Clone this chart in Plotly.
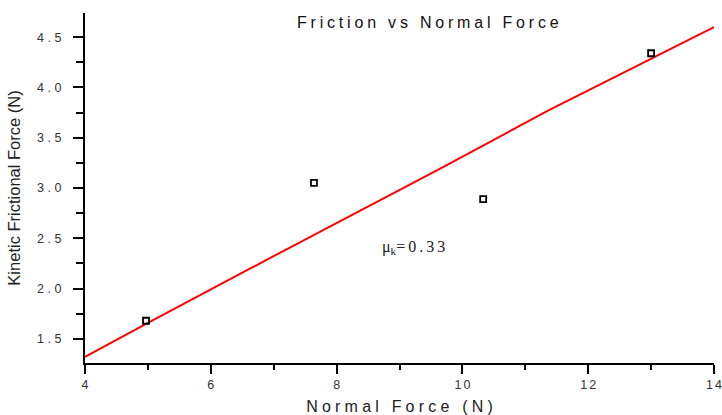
import plotly.graph_objects as go

# Data
normal_force = [4.97, 7.64, 10.33, 13.0]
friction = [1.68, 3.05, 2.89, 4.34]

fit_x = [4.0, 5.0, 6.9, 9.64, 11.36, 14.0]
fit_y = [1.32, 1.66, 2.29, 3.19, 3.77, 4.60]

x_ticks = [4, 6, 8, 10, 12, 14]
x_tick_labels = ["4", "6", "8", "10", "12", "14"]
y_ticks = [1.5, 2.0, 2.5, 3.0, 3.5, 4.0, 4.5]
y_tick_labels = ["1.5", "2.0", "2.5", "3.0", "3.5", "4.0", "4.5"]

SANS = "Liberation Sans, Arial, sans-serif"
SERIF = "Liberation Serif, Times New Roman, serif"


def spaced(t, px):
    """Letter-space all characters but the last (no trailing gap)."""
    if len(t) < 2:
        return t
    return "<span style='letter-spacing:%spx'>%s</span>%s" % (px, t[:-1], t[-1])


fig = go.Figure()
fig.add_trace(go.Scatter(x=fit_x, y=fit_y, mode="lines",
                         line=dict(color="#ff0000", width=2), showlegend=False))
fig.add_trace(go.Scatter(x=normal_force, y=friction, mode="markers",
                         marker=dict(symbol="square-open", size=6,
                                     color="black", line=dict(width=1.8, color="black")),
                         showlegend=False))

fig.add_annotation(x=8.69, y=2.41, xref="x", yref="y", xanchor="left",
                   text="μ<sub>k</sub>" + spaced("=0.33", 3), showarrow=False,
                   font=dict(family=SERIF, size=16, color="#222"))

fig.add_annotation(x=0.545, y=1.0, xref="paper", yref="paper", yanchor="middle",
                   yshift=-9, xanchor="center",
                   text=spaced("Friction vs Normal Force", 3.8),
                   showarrow=False,
                   font=dict(family=SANS, size=16, color="#111"))

axis_common = dict(showline=True, linecolor="black", linewidth=2,
                   ticks="outside", tickwidth=2, tickcolor="black",
                   showgrid=False, zeroline=False, mirror=False, automargin=False,
                   ticklabeloverflow="allow")

fig.update_xaxes(range=[4, 14], tickvals=x_ticks,
                 ticktext=[spaced(t, 2) for t in x_tick_labels], ticklen=9,
                 minor=dict(ticks="outside", ticklen=5, tickwidth=2, tickcolor="black", dtick=1, tick0=4),
                 title=dict(text=spaced("Normal Force (N)", 4.2),
                            font=dict(size=16, color="#222", family=SANS),
                            standoff=14),
                 tickfont=dict(size=12.5, color="#333", family=SANS),
                 **axis_common)
fig.update_yaxes(range=[1.26, 4.74], tickvals=y_ticks,
                 ticktext=[spaced(t, 3.5) for t in y_tick_labels], ticklen=10,
                 minor=dict(ticks="outside", ticklen=7, tickwidth=2, tickcolor="black", dtick=0.25, tick0=1.25),
                 ticklabelstandoff=9,
                 title=dict(text="Kinetic Frictional Force (N)",
                            font=dict(size=16.5, color="#222", family=SANS),
                            standoff=12),
                 tickfont=dict(size=12.5, color="#333", family=SANS),
                 **axis_common)

fig.update_layout(width=722, height=415, margin=dict(l=85, r=8, t=13, b=52),
                  plot_bgcolor="white", paper_bgcolor="white")

fig.write_html("out.html", config={"displayModeBar": False},
               post_script="document.body.style.margin='0';")
